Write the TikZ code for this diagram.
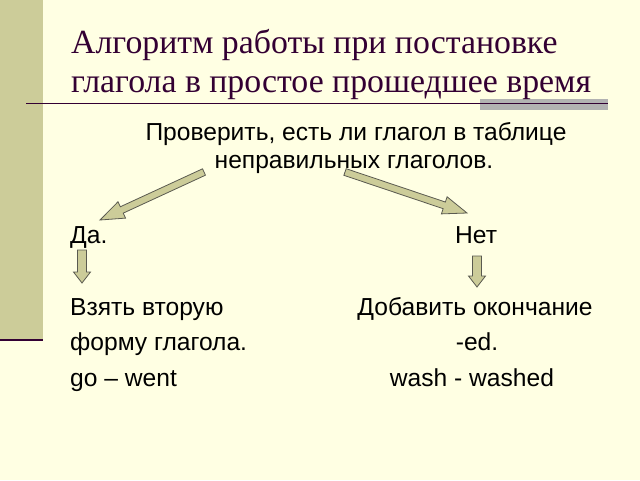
\documentclass[tikz,border=0pt]{standalone}
\usepackage{fontspec}
\setmainfont{Liberation Serif}
\newfontfamily\arialf{Liberation Sans}
\usetikzlibrary{calc}
\definecolor{bgc}{RGB}{255,255,227}
\definecolor{barc}{RGB}{204,204,153}
\definecolor{plum}{RGB}{51,0,51}
\definecolor{arrfill}{RGB}{204,204,153}
\definecolor{arredge}{RGB}{90,90,80}
\definecolor{grayrule}{RGB}{178,178,178}
\tikzset{
 titletext/.style={inner sep=0, anchor=base west, font=\fontsize{33.8}{40}\selectfont, text=plum},
 body/.style={inner sep=0, font=\arialf\fontsize{24.6}{29}\selectfont, text=black},
 barrow/.style={fill=arrfill, draw=arredge, line width=0.8pt, line join=miter},
}
% #1 tail, #2 tip, #3 shaft half width, #4 head half width, #5 head length
\newcommand\blockarr[5]{%
  \coordinate (#1-#2-n) at ($(#2)!#5!(#1)$);
  \draw[barrow] ($(#1)!#3!90:(#2)$) -- ($(#1-#2-n)!#3!90:(#2)$) -- ($(#1-#2-n)!#4!90:(#2)$) -- (#2)
     -- ($(#1-#2-n)!#4!-90:(#2)$) -- ($(#1-#2-n)!#3!-90:(#2)$) -- ($(#1)!#3!-90:(#2)$) -- cycle;
}
\begin{document}
\begin{tikzpicture}[x=1pt,y=-1pt]
\useasboundingbox (0,0) rectangle (640,480);
\fill[bgc] (0,0) rectangle (640,480);
\fill[barc] (0,0) rectangle (43,339);
\draw[plum, line width=2pt] (0,340) -- (43,340);
\fill[grayrule] (480,99) rectangle (608,110);
\draw[plum, line width=1.5pt] (26,103.5) -- (608,103.5);
\node[titletext] (t1) at (71,53) {Алгоритм работы при постановке};
\node[titletext] (t2) at (71,92) {глагола в простое прошедшее время};
\node[body, anchor=base] (q1) at (356,140) {Проверить, есть ли глагол в таблице};
\node[body, anchor=base] (q2) at (354,168) {неправильных глаголов.};
\node[body, anchor=base west] (yes) at (70,243) {Да.};
\node[body, anchor=base west] (no) at (455,243) {Нет};
\node[body, anchor=base west] (y1) at (70,315) {Взять вторую};
\node[body, anchor=base west] (y2) at (70,350) {форму глагола.};
\node[body, anchor=base west] (y3) at (70,386) {go – went};
\node[body, anchor=base] (n1) at (475,315) {Добавить окончание};
\node[body, anchor=base] (n2) at (477,350) {-ed.};
\node[body, anchor=base] (n3) at (472,386) {wash - washed};
\coordinate (la0) at (204,172); \coordinate (la1) at (100,220);
\coordinate (ra0) at (345,172); \coordinate (ra1) at (467,213);
\coordinate (ld0) at (82,250);  \coordinate (ld1) at (82,283);
\coordinate (rd0) at (477,256); \coordinate (rd1) at (477,287);
\blockarr{la0}{la1}{3.5pt}{9pt}{24pt}
\blockarr{ra0}{ra1}{3.5pt}{9pt}{24pt}
\blockarr{ld0}{ld1}{4.5pt}{8.5pt}{11pt}
\blockarr{rd0}{rd1}{4.5pt}{8.5pt}{11pt}
\end{tikzpicture}
\end{document}
